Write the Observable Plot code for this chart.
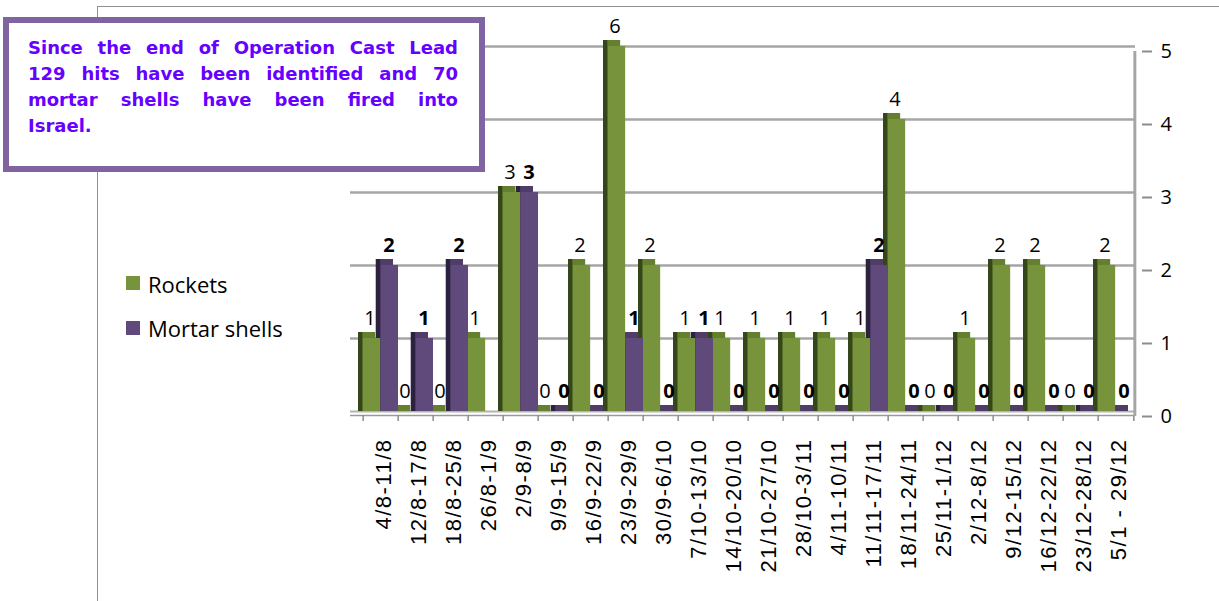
<!DOCTYPE html>
<html><head><meta charset="utf-8">
<script src="https://cdn.jsdelivr.net/npm/d3@7"></script>
<script src="https://cdn.jsdelivr.net/npm/@observablehq/plot@0.6"></script>
<style>
body{margin:0;background:#fff}
#wrap{position:relative;width:1219px;height:601px;overflow:hidden;background:#fff}
#chart{position:absolute;left:0;top:0}
#border{position:absolute;left:97px;top:6px;width:1140px;height:610px;border-left:1.5px solid #8f8f8f;border-top:1.5px solid #8f8f8f}
#note{position:absolute;left:3px;top:17px;width:482px;height:155px;box-sizing:border-box;border:6px solid #8064a2;background:#fff;padding:12px 21px 0 19px;font-family:"DejaVu Sans",Verdana,sans-serif;font-weight:bold;font-size:18px;line-height:26px;color:#6600ff}
#note .j{text-align:justify;text-align-last:justify;white-space:nowrap}
#note .l{text-align:left}
.sw{position:absolute;width:14px;height:14px}
.lt{position:absolute;font-family:"Open Sans",sans-serif;font-size:22px;line-height:30px;color:#000;white-space:nowrap}
svg g[aria-label="x-axis tick label"] text{letter-spacing:1.5px;font-family:"Liberation Sans",Arial,sans-serif}
svg g[aria-label="y-axis tick label"] text{font-family:"Open Sans",sans-serif}
svg g[aria-label="text"] text{font-family:"Open Sans",sans-serif}
</style>
</head><body>
<div id="wrap">
  <div id="border"></div>
  <div id="chart"></div>
  <div id="note"></div>
  <div id="legend"></div>
</div>
<script>
// ---- data ----
const categories = ["4/8-11/8","12/8-17/8","18/8-25/8","26/8-1/9","2/9-8/9","9/9-15/9","16/9-22/9","23/9-29/9","30/9-6/10","7/10-13/10","14/10-20/10","21/10-27/10","28/10-3/11","4/11-10/11","11/11-17/11","18/11-24/11","25/11-1/12","2/12-8/12","9/12-15/12","16/12-22/12","23/12-28/12","5/1 - 29/12"];
const rockets = [1,0,0,1,3,0,2,6,2,1,1,1,1,1,1,4,0,1,2,2,0,2];
const mortars = [2,1,2,null,3,0,0,1,0,1,0,0,0,0,2,0,0,0,0,0,0,0];
const seriesNames = ["Rockets","Mortar shells"];
const seriesColors = ["#77933c","#604a7b"];
const yTicks = [0,1,2,3,4,5];
const noteLines = ["Since the end of Operation Cast Lead","129 hits have been identified and 70","mortar shells have been fired into","Israel."];

// ---- table ----
const rows = [];
categories.forEach((c, i) => {
  if (rockets[i] != null) rows.push({cat: c, series: seriesNames[0], value: rockets[i]});
  if (mortars[i] != null) rows.push({cat: c, series: seriesNames[1], value: mortars[i]});
});
const R = rows.filter(d => d.series === seriesNames[0]);
const M = rows.filter(d => d.series === seriesNames[1]);

// ---- layout ----
const W = 1219, H = 601;
const xStart = 355, xEnd = 1140;
const bw = (xEnd - xStart) / categories.length, half = bw / 2, depth = 5;

function layers(data, left, front, top, side) {
  const inL = left ? 0 : half, inR = left ? half : 0;
  const back = [
    Plot.barY(data, {x: "cat", y: "value", insetLeft: inL, insetRight: inR, insetTop: -1, insetBottom: -depth, dx: -depth, dy: -depth, fill: top}),
    Plot.barY(data, {x: "cat", y: "value", insetLeft: inL, insetRight: bw - inL - depth, insetTop: -1, insetBottom: -depth, dx: -depth, dy: -depth, fill: side})
  ];
  const fr = Plot.barY(data, {x: "cat", y: "value", insetLeft: inL, insetRight: inR, fill: front});
  return {back, fr};
}
const LR = layers(R, true, seriesColors[0], "#64802f", "#36461b");
const LM = layers(M, false, seriesColors[1], "#4f3d68", "#2c2240");

const last = categories[categories.length - 1];

const chart = Plot.plot({
  width: W, height: H,
  marginLeft: 350, marginRight: W - 1135, marginTop: 46, marginBottom: H - 411,
  style: {background: "transparent", overflow: "visible"},
  x: {type: "band", domain: categories, range: [xStart, xEnd], padding: 0, label: null},
  y: {domain: [0, 5], clamp: true, label: null},
  marks: [
    Plot.ruleY(yTicks.slice(1), {stroke: "#a6a6a6", strokeWidth: 2.5}),
    Plot.ruleY([0], {stroke: "#b3b3b3", strokeWidth: 2}),
    Plot.ruleY([0], {dy: 4, stroke: "#9a9a9a", strokeWidth: 1.5}),
    Plot.ruleX(categories, {x: d => d, y1: 0, y2: 0, insetBottom: -6, dy: 4, dx: -half, stroke: "#8c8c8c", strokeWidth: 1.5}),
    Plot.ruleX([last], {x: d => d, y1: 0, y2: 0, insetBottom: -6, dy: 4, dx: half, stroke: "#8c8c8c", strokeWidth: 1.5}),
    Plot.ruleX([last], {x: d => d, y1: 0, y2: 5, dx: half + 1, dy: 5, stroke: "#a6a6a6", strokeWidth: 3}),
    ...LR.back, ...LM.back,
    LR.fr, LM.fr,
    Plot.text(R, {x: "cat", y: "value", text: d => String(d.value), dx: -11, dy: -20, fontSize: 20, fontFamily: "Open Sans", fill: "#000"}),
    Plot.text(M, {x: "cat", y: "value", text: d => String(d.value), dx: 8, dy: -20, fontSize: 20, fontWeight: "bold", fontFamily: "Open Sans", fill: "#000"}),
    Plot.axisX({tickSize: 0, tickPadding: 27, tickRotate: -90, textAnchor: "end", dx: 3, fontSize: 22, fontFamily: "Liberation Sans", fill: "#000", label: null}),
    Plot.axisY(yTicks, {anchor: "right", tickSize: 10, tickPadding: 9, dx: 6, dy: 5, tickFormat: d => String(d), fontSize: 20, fontFamily: "Open Sans", stroke: "#8c8c8c", strokeWidth: 2, fill: "#000", label: null})
  ]
});
document.getElementById("chart").appendChild(chart);

// ---- note box ----
const note = document.getElementById("note");
noteLines.forEach((t, i) => {
  const d = document.createElement("div");
  d.className = i < noteLines.length - 1 ? "j" : "l";
  d.textContent = t;
  note.appendChild(d);
});

// ---- legend ----
const legend = document.getElementById("legend");
seriesNames.forEach((name, i) => {
  const sw = document.createElement("div");
  sw.className = "sw";
  sw.style.left = "126px";
  sw.style.top = (276 + i * 45) + "px";
  sw.style.background = seriesColors[i];
  legend.appendChild(sw);
  const t = document.createElement("div");
  t.className = "lt";
  t.style.left = "148px";
  t.style.top = (269 + i * 44) + "px";
  t.textContent = name;
  legend.appendChild(t);
});
</script>
</body></html>
